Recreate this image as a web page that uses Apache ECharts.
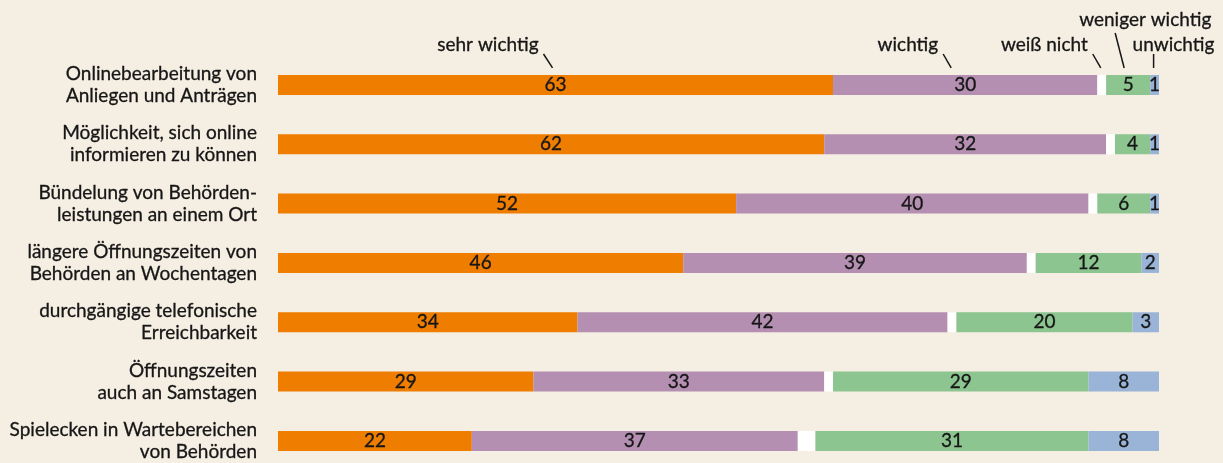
<!DOCTYPE html>
<html>
<head>
<meta charset="utf-8">
<script src="https://cdn.jsdelivr.net/npm/echarts@6/dist/echarts.min.js"></script>
<style>
  html, body { margin: 0; padding: 0; background: #f5eee3; }
  #main { width: 1223px; height: 463px; }
</style>
</head>
<body>
<div id="main"></div>
<script>
    // Daten
    var categories = [
        'Onlinebearbeitung von\nAnliegen und Anträgen',
        'Möglichkeit, sich online\ninformieren zu können',
        'Bündelung von Behörden-\nleistungen an einem Ort',
        'längere Öffnungszeiten von\nBehörden an Wochentagen',
        'durchgängige telefonische\nErreichbarkeit',
        'Öffnungszeiten\nauch an Samstagen',
        'Spielecken in Wartebereichen\nvon Behörden'
    ];
    var sehrWichtig    = [63, 62, 52, 46, 34, 29, 22];
    var wichtig        = [30, 32, 40, 39, 42, 33, 37];
    var weissNicht     = [1, 1, 1, 1, 1, 1, 2];
    var wenigerWichtig = [5, 4, 6, 12, 20, 29, 31];
    var unwichtig      = [1, 1, 1, 2, 3, 8, 8];
    var seriesNames = ['sehr wichtig', 'wichtig', 'weiß nicht', 'weniger wichtig', 'unwichtig'];

    var font = 'Lato';
    var fontSize = 19;
    var textColor = '#161616';

    var myChart = echarts.init(document.getElementById('main'));

    function bar(name, data, color, showLabel) {
        return {
            name: name,
            type: 'bar',
            stack: 'total',
            barWidth: 20,
            data: data,
            itemStyle: { color: color },
            label: {
                show: showLabel,
                position: 'inside',
                color: textColor,
                fontFamily: font,
                fontSize: 19,
                textBorderColor: textColor,
                textBorderWidth: 0.3
            },
            silent: true
        };
    }

    myChart.setOption({
        backgroundColor: '#f5eee3',
        animation: false,
        grid: {
            left: 278, right: 64, top: 55.3, height: 415.3,
            containLabel: false, outerBoundsMode: 'none'
        },
        xAxis: {
            type: 'value', min: 0, max: 100, show: false
        },
        yAxis: {
            type: 'category',
            inverse: true,
            data: categories,
            axisLine: { show: false },
            axisTick: { show: false },
            axisLabel: {
                margin: 21,
                fontFamily: font,
                fontSize: fontSize,
                lineHeight: 22,
                color: textColor,
                textBorderColor: textColor,
                textBorderWidth: 0.3,
                align: 'right',
                padding: [0, 0, 10, 0]
            }
        },
        series: [
            bar(seriesNames[0], sehrWichtig, '#ef7d00', true),
            bar(seriesNames[1], wichtig, '#b48fb1', true),
            bar(seriesNames[2], weissNicht, '#ffffff', false),
            bar(seriesNames[3], wenigerWichtig, '#8cc58f', true),
            bar(seriesNames[4], unwichtig, '#9ab4d8', true)
        ]
    });

    // Beschriftungen über der ersten Zeile, an Segmentmitte ausgerichtet
    var rows = [sehrWichtig, wichtig, weissNicht, wenigerWichtig, unwichtig];
    // [dx Linie unten, dx Linie oben, y Linie oben, dx Text, y Text, Ausrichtung]
    var ann = [
        [-3, -12, 54, -5, 45, 'right'],
        [-14, -22, 54, -5, 45, 'right'],
        [-1, -9, 54, -5, 45, 'right'],
        [-4, -13, 33, -36, 20, 'left'],
        [-1, -1, 54, -21, 45, 'left']
    ];
    var graphics = [];
    var cum = 0;
    for (var i = 0; i < rows.length; i++) {
        var v = rows[i][0];
        var p = myChart.convertToPixel({ gridIndex: 0 }, [cum + v / 2, 0]);
        var barTop = p[1] - 10;
        cum += v;
        var a = ann[i];
        var x1 = p[0] + a[0], x2 = p[0] + a[1];
        graphics.push({
            type: 'line',
            shape: { x1: x1, y1: barTop - 7, x2: x2, y2: a[2] },
            style: { stroke: textColor, lineWidth: 1.5 }
        });
        graphics.push({
            type: 'text',
            x: x2 + a[3],
            y: a[4],
            style: {
                text: seriesNames[i],
                font: fontSize + 'px ' + font,
                fill: textColor,
                stroke: textColor,
                lineWidth: 0.3,
                align: a[5],
                verticalAlign: 'middle'
            }
        });
    }
    myChart.setOption({ graphic: graphics });
</script>
</body>
</html>
